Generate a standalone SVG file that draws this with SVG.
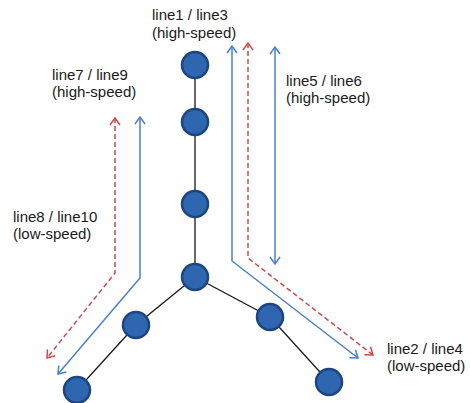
<svg xmlns="http://www.w3.org/2000/svg" width="470" height="403" viewBox="0 0 470 403">
<style>
.node{fill:#2e66b0;stroke:#1d4582;stroke-width:2.5}
.edge{stroke:#1a1a1a;stroke-width:1.3;fill:none}
.blue{stroke:#4a7fcc;stroke-width:1.5;fill:none}
.red{stroke:#cc4a4a;stroke-width:1.5;fill:none;stroke-dasharray:5 3}
text{font-family:"Liberation Sans",Arial,sans-serif;font-size:15px;fill:#1a1a1a}
</style>
<defs>
<marker id="ab" markerUnits="userSpaceOnUse" markerWidth="12" markerHeight="12" viewBox="0 0 12 12" refX="10" refY="6" orient="auto-start-reverse">
<path d="M3,1 L10,6 L3,11" fill="none" stroke="#4a7fcc" stroke-width="1.5"/>
</marker>
<marker id="ar" markerUnits="userSpaceOnUse" markerWidth="12" markerHeight="12" viewBox="0 0 12 12" refX="10" refY="6" orient="auto-start-reverse">
<path d="M3,1 L10,6 L3,11" fill="none" stroke="#cc4a4a" stroke-width="1.5"/>
</marker>
</defs>
<g id="connectors">
<path class="edge" d="M195,65 V277 M195,277 L136,325 L77,390 M195,277 L270,317 L329,382"/>
<path class="blue" d="M140,117 V278 L58,374" marker-start="url(#ab)" marker-end="url(#ab)"/>
<path class="red" d="M115,118 V273 L47,358" marker-start="url(#ar)" marker-end="url(#ar)"/>
<path class="blue" d="M232,46 V261 L358,358" marker-start="url(#ab)" marker-end="url(#ab)"/>
<path class="red" d="M248,43 V258 L373,355" marker-start="url(#ar)" marker-end="url(#ar)"/>
<path class="blue" d="M275,47 V264" marker-start="url(#ab)" marker-end="url(#ab)"/>
</g>
<g id="n1"><circle class="node" cx="195" cy="65" r="13"/></g>
<g id="n2"><circle class="node" cx="195" cy="122" r="13"/></g>
<g id="n3"><circle class="node" cx="195" cy="204" r="13"/></g>
<g id="n4"><circle class="node" cx="195" cy="277" r="13"/></g>
<g id="n5"><circle class="node" cx="136" cy="325" r="13"/></g>
<g id="n6"><circle class="node" cx="77" cy="390" r="13"/></g>
<g id="n7"><circle class="node" cx="270" cy="317" r="13"/></g>
<g id="n8"><circle class="node" cx="329" cy="382" r="13"/></g>
<g id="labels">
<text x="152" y="20">line1 / line3</text>
<text x="152" y="38">(high-speed)</text>
<text x="52" y="80">line7 / line9</text>
<text x="52" y="97">(high-speed)</text>
<text x="286" y="86">line5 / line6</text>
<text x="286" y="103">(high-speed)</text>
<text x="13" y="222">line8 / line10</text>
<text x="13" y="239">(low-speed)</text>
<text x="387" y="354">line2 / line4</text>
<text x="387" y="371">(low-speed)</text>
</g>
</svg>
